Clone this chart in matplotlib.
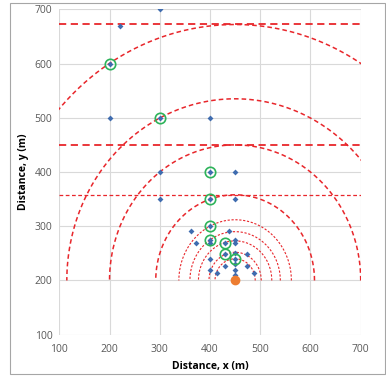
import matplotlib
matplotlib.use("Agg")
import matplotlib.pyplot as plt
from matplotlib.patches import Rectangle
import numpy as np

# measurement points (blue diamonds)
pts_x = [300, 220, 200, 200, 300, 400, 300, 400, 450, 300, 400, 450, 400, 362, 438,
         372, 400, 400, 430, 450, 450, 430, 450, 450, 473, 400, 430, 450, 473, 400,
         413, 450, 450, 487]
pts_y = [700, 670, 600, 500, 500, 500, 400, 400, 400, 350, 350, 350, 300, 292, 292,
         270, 275, 270, 270, 275, 270, 248, 250, 240, 248, 240, 227, 230, 227, 220,
         213, 220, 210, 213]

# selected points (green rings)
sel_x = [200, 300, 400, 400, 400, 400, 430, 430, 450]
sel_y = [600, 500, 400, 350, 300, 275, 270, 248, 240]

# source
src_x, src_y = 450, 200

# arcs around the source
radii = [472, 335, 250, 158, 112, 90, 73, 52, 40]
# horizontal limits
hlines = [672, 450, 357]

ticks = [100, 200, 300, 400, 500, 600, 700]

plt.rcParams['font.family'] = ['Open Sans', 'DejaVu Sans']

fig = plt.figure(figsize=(3.86, 3.80), dpi=100)
ax = fig.add_axes([0.1536, 0.1192, 0.7809, 0.8563])

red = '#E8262B'
theta = np.linspace(0, np.pi, 300)
for r in radii:
    lw = 1.1 if r >= 150 else 0.8
    dash = (3, 2) if r >= 150 else (2, 1.5)
    ax.plot(src_x + r * np.cos(theta), src_y + r * np.sin(theta), color=red,
            lw=lw, dashes=dash, zorder=2)

for i, h in enumerate(hlines):
    lw = 1.3 if i < 2 else 0.9
    dash = (4, 2.5) if i < 2 else (3, 2)
    ax.plot([100, 700], [h, h], color=red, lw=lw, dashes=dash, zorder=2)

ax.plot(pts_x, pts_y, 'D', color='#3F6CAF', ms=3, mec='none', zorder=3)
ax.plot(sel_x, sel_y, 'o', mfc='none', mec='#2DB35A', mew=1.2, ms=7.5, zorder=4)
ax.plot([src_x], [src_y], 'o', color='#ED7D31', ms=6, zorder=5)

ax.set_xlim(100, 700)
ax.set_ylim(100, 700)
ax.set_xticks(ticks)
ax.set_yticks(ticks)
ax.grid(True, color='#D9D9D9', lw=0.8)
ax.set_axisbelow(True)
for s in ax.spines.values():
    s.set_visible(False)
ax.tick_params(length=0, labelsize=7.5, labelcolor='#595959')
ax.tick_params(axis='x', pad=7)
ax.tick_params(axis='y', pad=5)

ax.set_xlabel('Distance, x (m)', fontsize=7.5, fontweight='bold', labelpad=4)
ax.set_ylabel('Distance, y (m)', fontsize=7.5, fontweight='bold', labelpad=4)

fig.patches.append(Rectangle((10 / 386, 1 - 374 / 380), 375 / 386, 371.3 / 380,
                             transform=fig.transFigure, fill=False,
                             edgecolor='#A6A6A6', lw=0.8))

fig.savefig('out.png', dpi=100)
